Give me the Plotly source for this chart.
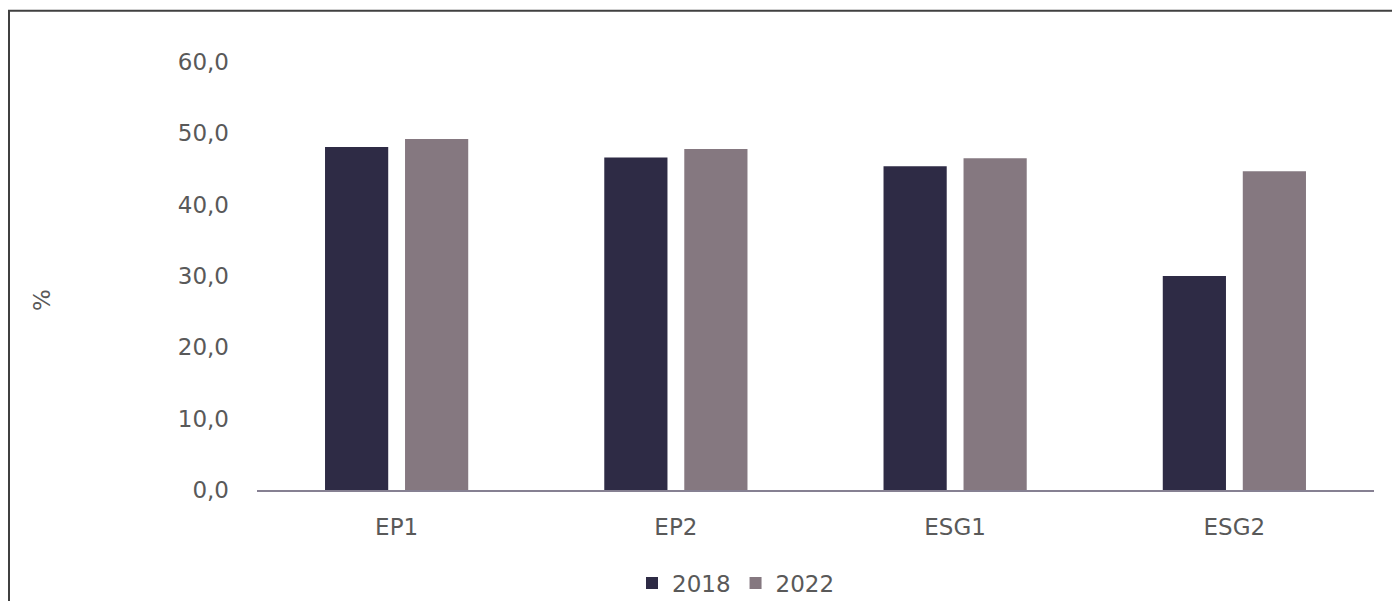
import plotly.graph_objects as go

categories = ["EP1", "EP2", "ESG1", "ESG2"]
values_2018 = [48.1, 46.6, 45.4, 30.0]
values_2022 = [49.2, 47.8, 46.5, 44.7]
tick_vals = [0, 10, 20, 30, 40, 50, 60]

FONT = "DejaVu Sans"
TXT = "#595959"
FS = 23

fig = go.Figure()
fig.add_trace(go.Bar(name="2018", x=categories, y=values_2018,
                     marker=dict(color="#2E2B45", line=dict(width=0))))
fig.add_trace(go.Bar(name="2022", x=categories, y=values_2022,
                     marker=dict(color="#857880", line=dict(width=0))))

# figure is 1384x593; the page adds an 8px body margin
W, H = 1384, 593
L, R, T, B = 249, 18, 54, 111
pw, ph = W - L - R, H - T - B

def px2x(px):
    return (px - L) / pw

def py2y(py):
    return (H - B - py) / ph

fig.update_layout(
    width=W, height=H,
    margin=dict(l=L, r=R, t=T, b=B, autoexpand=False),
    paper_bgcolor="white", plot_bgcolor="white",
    barmode="group", bargap=0.427, bargroupgap=0.21,
    separators=",.",
    font=dict(family=FONT, size=FS, color=TXT),
    showlegend=True,
    legend=dict(orientation="h", xref="container", yref="container",
                x=624 / W, xanchor="left",
                y=1 - 575 / H, yanchor="middle",
                font=dict(family=FONT, size=FS, color=TXT),
                itemwidth=30, traceorder="normal"),
    xaxis=dict(showline=True, linecolor="#868092", linewidth=1.5,
               ticks="", showgrid=False, ticklabelstandoff=16,
               automargin=False,
               tickfont=dict(family=FONT, size=FS, color=TXT)),
    yaxis=dict(range=[0, 60], tickvals=tick_vals, tickformat=".1f",
               showline=False, showgrid=False, zeroline=False,
               ticks="", ticklabelstandoff=27, automargin=False,
               tickfont=dict(family=FONT, size=FS, color=TXT)),
    annotations=[dict(text="%", xref="paper", yref="paper",
                      x=px2x(34), y=py2y(292), showarrow=False,
                      xanchor="center", yanchor="middle",
                      textangle=-90, font=dict(family=FONT, size=FS, color=TXT))],
    shapes=[dict(type="rect", xref="paper", yref="paper",
                 x0=px2x(1), x1=px2x(1420), y0=py2y(640), y1=py2y(2.7),
                 line=dict(color="#404040", width=2), layer="below")],
)

fig.write_html("out.html")
